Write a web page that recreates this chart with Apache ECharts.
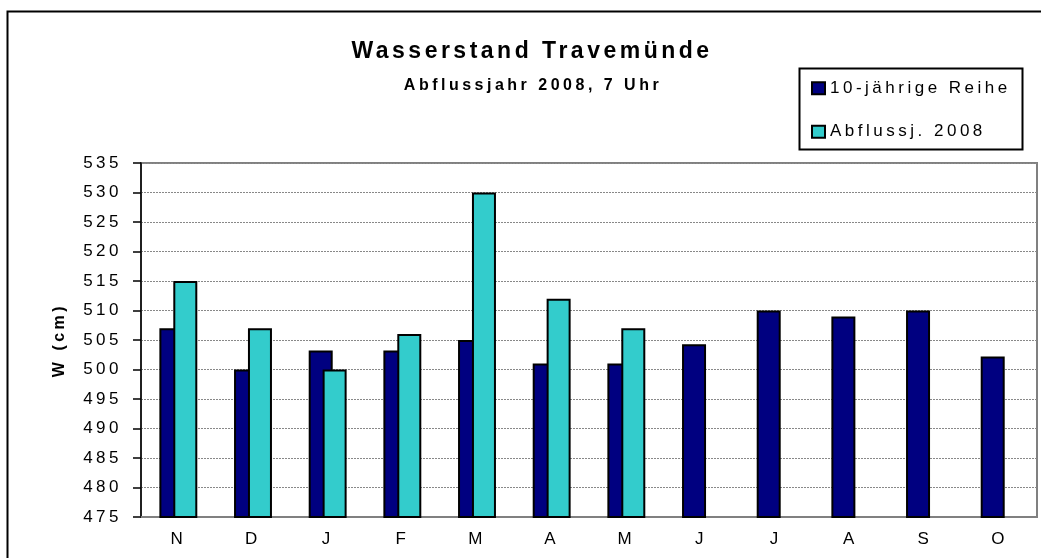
<!DOCTYPE html>
<html>
<head>
<meta charset="utf-8">
<script src="https://cdn.jsdelivr.net/npm/echarts@6/dist/echarts.min.js"></script>
<style>
html,body{margin:0;padding:0;background:#fff;}
#main{width:1041px;height:558px;}
</style>
</head>
<body>
<div id="main"></div>
<script>
// Monate des Abflussjahres (Nov - Okt)
var months = ['N', 'D', 'J', 'F', 'M', 'A', 'M', 'J', 'J', 'A', 'S', 'O'];
// 10-jährige Reihe
var reihe10 = [507, 500, 503.2, 503.2, 505, 501, 501, 504.3, 510, 509, 510, 502.2];
// Abflussjahr 2008 (nur bis Mai)
var abfluss2008 = [515, 507, 500, 506, 530, 512, 507, null, null, null, null, null];
// y-Achse
var yMin = 475;
var yMax = 535;
var yStep = 5;

// Excel-Optik: gesperrte Schrift
var ctxProto = CanvasRenderingContext2D.prototype;
['fillText', 'strokeText', 'measureText'].forEach(function (name) {
    var orig = ctxProto[name];
    ctxProto[name] = function () {
        this.letterSpacing = '3.5px';
        return orig.apply(this, arguments);
    };
});

var font = 'Liberation Sans';
var myChart = echarts.init(document.getElementById('main'));
var option = {
    backgroundColor: '#fff',
    animation: false,
    textStyle: {fontFamily: font},
    title: [
        {
            text: 'Wasserstand Travemünde',
            left: 532,
            top: 38,
            textAlign: 'center',
            padding: 0,
            textStyle: {fontFamily: font, fontSize: 23, fontWeight: 'bold', color: '#000'}
        },
        {
            text: 'Abflussjahr 2008, 7 Uhr',
            left: 533,
            top: 76,
            textAlign: 'center',
            padding: 0,
            textStyle: {fontFamily: font, fontSize: 16, fontWeight: 'bold', color: '#000'}
        }
    ],
    legend: {
        orient: 'vertical',
        left: 811,
        top: 78,
        padding: 0,
        itemWidth: 13,
        itemHeight: 12,
        itemGap: 23,
        icon: 'rect',
        textStyle: {fontFamily: font, fontSize: 17, color: '#000'},
        data: ['10-jährige Reihe', 'Abflussj. 2008']
    },
    graphic: [
        {
            type: 'rect',
            left: 5,
            top: 9,
            shape: {width: 1100, height: 600},
            style: {fill: 'none', stroke: '#000', lineWidth: 2},
            silent: true
        },
        {
            type: 'rect',
            left: 797,
            top: 66,
            shape: {width: 223, height: 81},
            style: {fill: 'none', stroke: '#000', lineWidth: 2},
            silent: true
        }
    ],
    grid: {
        left: 141,
        right: 4,
        top: 163,
        bottom: 41,
        show: true,
        borderColor: '#808080',
        borderWidth: 2
    },
    xAxis: {
        type: 'category',
        data: months,
        axisLine: {lineStyle: {color: '#808080', width: 2}},
        axisTick: {show: false},
        axisLabel: {margin: 12, fontFamily: font, fontSize: 17, color: '#000'}
    },
    yAxis: {
        type: 'value',
        min: yMin,
        max: yMax,
        interval: yStep,
        name: 'W (cm)',
        nameLocation: 'middle',
        nameGap: 72,
        nameTextStyle: {fontFamily: font, fontSize: 16, fontWeight: 'bold', color: '#000'},
        axisLine: {show: true, lineStyle: {color: '#000', width: 1.5}},
        axisTick: {show: true, length: 8, lineStyle: {color: '#000', width: 1.5}},
        axisLabel: {margin: 19, fontFamily: font, fontSize: 17, color: '#000'},
        splitLine: {lineStyle: {color: '#888', width: 1, type: [2, 1]}}
    },
    series: [
        {
            name: '10-jährige Reihe',
            type: 'bar',
            data: reihe10,
            barWidth: 24,
            barGap: '-42%',
            itemStyle: {color: '#000080', borderColor: '#000', borderWidth: 2}
        },
        {
            name: 'Abflussj. 2008',
            type: 'bar',
            data: abfluss2008,
            barWidth: 24,
            itemStyle: {color: '#33CCCC', borderColor: '#000', borderWidth: 2}
        }
    ]
};
myChart.setOption(option);
</script>
</body>
</html>
